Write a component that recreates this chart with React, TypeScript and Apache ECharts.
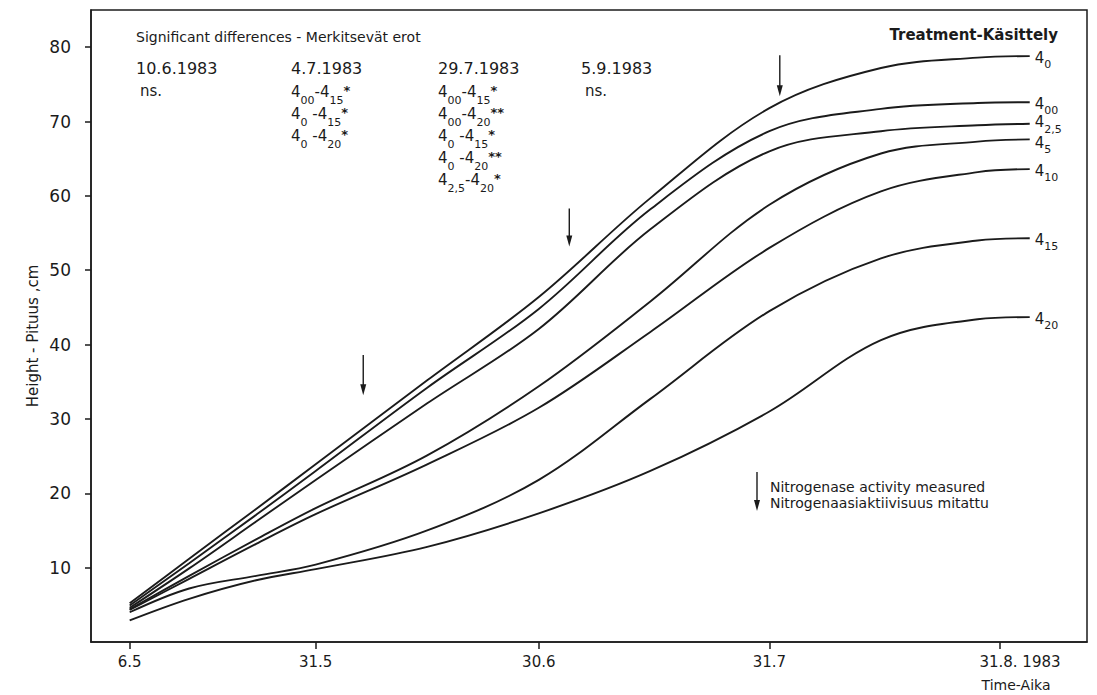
import React, { useEffect, useRef } from "react";
import * as echarts from "echarts";

// ---- data (day of year 1983 on x, height in cm on y) ----
const days = [126, 134, 143, 151, 166, 181, 196, 212, 227, 240, 247];
const h4_0 = [5.2, 11.2, 17.9, 23.9, 35.2, 46.4, 59.7, 71.8, 77.2, 78.6, 78.8];
const h4_00 = [4.9, 10.6, 17.1, 23.0, 34.2, 44.8, 58.2, 68.7, 71.7, 72.5, 72.6];
const h4_25 = [4.6, 9.9, 16.2, 21.8, 32.1, 42.1, 55.5, 66.0, 68.7, 69.5, 69.7];
const h4_5 = [4.4, 8.9, 13.8, 18.0, 25.1, 34.4, 45.8, 58.8, 65.7, 67.3, 67.6];
const h4_10 = [4.3, 8.5, 13.2, 17.2, 23.9, 31.5, 41.7, 53.0, 60.6, 63.2, 63.6];
const h4_15 = [4.0, 7.2, 8.9, 10.4, 15.0, 21.8, 32.7, 44.5, 51.6, 54.0, 54.3];
const h4_20 = [2.9, 5.8, 8.3, 9.8, 12.8, 17.3, 23.0, 31.0, 40.6, 43.4, 43.7];

const treatmentSubs = ["0", "00", "2,5", "5", "10", "15", "20"];
const treatmentValues = [h4_0, h4_00, h4_25, h4_5, h4_10, h4_15, h4_20];

const xTickDays = [126, 151, 181, 212, 243];
const xTickLabels = ["6.5", "31.5", "30.6", "31.7", "31.8. 1983"];
const yTickValues = [10, 20, 30, 40, 50, 60, 70, 80];

// nitrogenase measurement arrows
const arrowDays = [157.4, 185.1, 213.4];
const arrowTop = [38.6, 58.3, 78.9];
const arrowBottom = [33.2, 53.2, 73.4];

// significance table
const sigDates = ["10.6.1983", "4.7.1983", "29.7.1983", "5.9.1983"];
const sig_1006: string[][] = [];
const sig_0407 = [
  ["00", "15", "*"],
  ["0", "15", "*"],
  ["0", "20", "*"],
];
const sig_2907 = [
  ["00", "15", "*"],
  ["00", "20", "**"],
  ["0", "15", "*"],
  ["0", "20", "**"],
  ["2,5", "20", "*"],
];
const sig_0509: string[][] = [];

const INK = "#1b1b1b";
const FONT = "'DejaVu Sans', 'Liberation Sans', sans-serif";

// small vertical nudges so the crowded end labels do not collide
const endLabelNudge = [0, 0, -3, 2, 0, 0, 0];

const tableRich = {
  n: { fontSize: 15, lineHeight: 12, verticalAlign: "top", fontFamily: FONT, color: INK },
  s: { fontSize: 11, lineHeight: 22, verticalAlign: "bottom", fontFamily: FONT, color: INK },
  a: { fontSize: 13, lineHeight: 12, verticalAlign: "top", fontWeight: "bold", fontFamily: FONT, color: INK },
};
const endRich = {
  n: { fontSize: 15, lineHeight: 12, verticalAlign: "top", fontFamily: FONT, color: INK },
  s: { fontSize: 11, lineHeight: 20, verticalAlign: "bottom", fontFamily: FONT, color: INK },
};

const pairText = (p: string[]) => {
  const sep = p[0].length === 1 ? " -4" : "-4";
  return `{n|4}{s|${p[0]}}{n|${sep}}{s|${p[1]}}{a|${p[2]}}`;
};

export default function App() {
  const ref = useRef<HTMLDivElement>(null);
  useEffect(() => {
    const chart = echarts.init(ref.current!, null, { renderer: "svg" });

    const lineSeries = treatmentValues.map((vals, k) => ({
      type: "line",
      name: "4_" + treatmentSubs[k],
      data: days.map((d, i) => [d, vals[i]]),
      smooth: 0.35,
      symbol: "none",
      silent: true,
      lineStyle: { color: INK, width: 1.9 },
      endLabel: {
        show: true,
        formatter: `{n|4}{s|${treatmentSubs[k]}}`,
        rich: endRich,
        distance: 5,
        offset: [0, 4 + endLabelNudge[k]],
      },
      z: 3,
    }));

    const arrowSeries = {
      type: "custom",
      silent: true,
      data: arrowDays.map((d, i) => [d, arrowTop[i], arrowBottom[i]]),
      renderItem: (params: any, api: any) => {
        const p1 = api.coord([api.value(0), api.value(1)]);
        const p2 = api.coord([api.value(0), api.value(2)]);
        return {
          type: "group",
          children: [
            {
              type: "line",
              shape: { x1: p1[0], y1: p1[1], x2: p2[0], y2: p2[1] - 8 },
              style: { stroke: INK, lineWidth: 1.4 },
            },
            {
              type: "polygon",
              shape: {
                points: [
                  [p2[0] - 3, p2[1] - 11],
                  [p2[0] + 3, p2[1] - 11],
                  [p2[0], p2[1]],
                ],
              },
              style: { fill: INK },
            },
          ],
        };
      },
      z: 4,
    };

    const colX = [136, 291, 438, 581];
    const sigLists = [sig_1006, sig_0407, sig_2907, sig_0509];
    const graphics: any[] = [
      {
        type: "text",
        x: 136,
        y: 37,
        style: {
          text: "Significant differences - Merkitsevät erot",
          font: `14px ${FONT}`,
          fill: INK,
          verticalAlign: "middle",
        },
      },
      {
        type: "text",
        x: 1058,
        y: 35,
        style: {
          text: "Treatment-Käsittely",
          font: `bold 15px ${FONT}`,
          fill: INK,
          align: "right",
          verticalAlign: "middle",
        },
      },
      {
        type: "text",
        x: 1016,
        y: 685,
        style: {
          text: "Time-Aika",
          font: `14px ${FONT}`,
          fill: INK,
          align: "center",
          verticalAlign: "middle",
        },
      },
      {
        type: "text",
        x: 33,
        y: 336,
        rotation: Math.PI / 2,
        style: {
          text: "Height - Pituus ,cm",
          font: `15px ${FONT}`,
          fill: INK,
          align: "center",
          verticalAlign: "middle",
        },
      },
      {
        type: "group",
        children: [
          { type: "line", shape: { x1: 757, y1: 472, x2: 757, y2: 503 }, style: { stroke: INK, lineWidth: 1.4 } },
          { type: "polygon", shape: { points: [[754, 500], [760, 500], [757, 511]] }, style: { fill: INK } },
        ],
      },
      {
        type: "text",
        x: 770,
        y: 495,
        style: {
          text: "Nitrogenase activity measured\nNitrogenaasiaktiivisuus mitattu",
          font: `14px ${FONT}`,
          lineHeight: 16,
          fill: INK,
          verticalAlign: "middle",
        },
      },
    ];
    sigDates.forEach((dt, c) => {
      graphics.push({
        type: "text",
        x: colX[c],
        y: 68,
        style: { text: dt, font: `16px ${FONT}`, fill: INK, verticalAlign: "middle" },
      });
      const list = sigLists[c];
      if (list.length === 0) {
        graphics.push({
          type: "text",
          x: colX[c] + 4,
          y: 91,
          style: { text: "ns.", font: `15px ${FONT}`, fill: INK, verticalAlign: "middle" },
        });
      } else {
        graphics.push({
          type: "text",
          x: colX[c],
          y: 84,
          style: {
            text: list.map(pairText).join("\n"),
            rich: tableRich,
            verticalAlign: "top",
            fill: INK,
          },
        });
      }
    });

    const axisLineStyle = { color: INK, width: 1.5 };

    chart.setOption({
      animation: false,
      backgroundColor: "#ffffff",
      grid: {
        left: 91,
        top: 10,
        right: 10,
        bottom: 53,
        show: true,
        borderColor: INK,
        borderWidth: 1.5,
        backgroundColor: "transparent",
      },
      xAxis: {
        type: "value",
        min: 120.8,
        max: 254.7,
        axisLine: { show: true, onZero: false, lineStyle: axisLineStyle },
        axisTick: { show: true, customValues: xTickDays, length: 7, lineStyle: axisLineStyle },
        axisLabel: {
          customValues: xTickDays,
          margin: 12,
          fontSize: 15,
          fontFamily: FONT,
          color: INK,
          formatter: (v: number) => {
            const i = xTickDays.indexOf(Math.round(v));
            if (i < 0) return "";
            if (i === xTickDays.length - 1) return `{p|${xTickLabels[i]}}`;
            return xTickLabels[i];
          },
          rich: { p: { fontSize: 15, fontFamily: FONT, color: INK, padding: [0, 0, 0, 40] } },
        },
        splitLine: { show: false },
      },
      yAxis: {
        type: "value",
        min: 0,
        max: 85,
        interval: 10,
        axisLine: { show: true, lineStyle: axisLineStyle },
        axisTick: { show: true, customValues: yTickValues, length: 6, lineStyle: axisLineStyle },
        axisLabel: {
          customValues: yTickValues,
          margin: 20,
          fontSize: 17,
          fontFamily: FONT,
          color: INK,
        },
        splitLine: { show: false },
      },
      graphic: graphics,
      series: [...lineSeries, arrowSeries],
    });
    return () => chart.dispose();
  }, []);
  return (
    <div
      ref={ref}
      style={{ position: "fixed", left: 0, top: 0, width: 1097, height: 695, background: "#fff" }}
    />
  );
}
